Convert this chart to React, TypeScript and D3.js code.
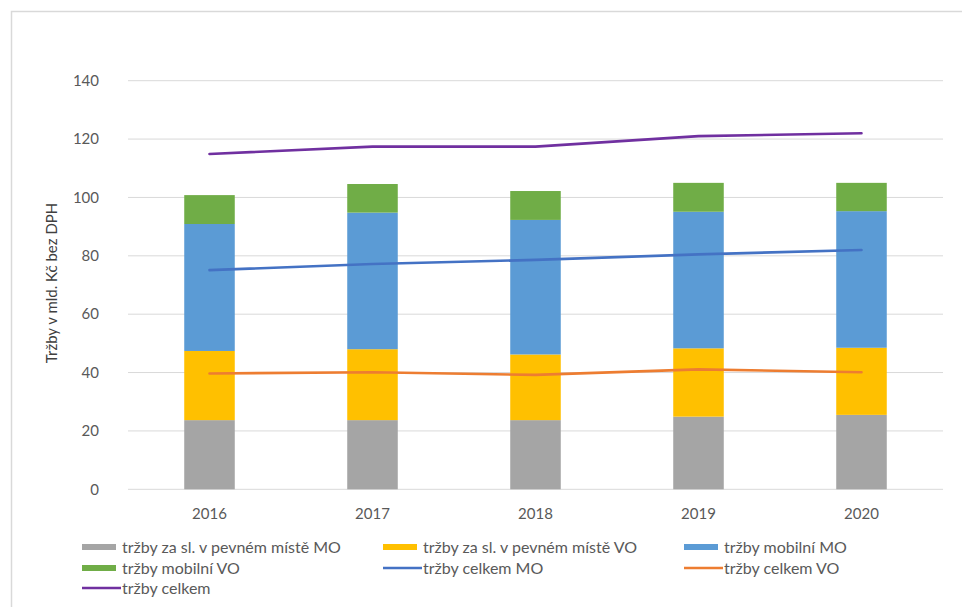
import React from 'react';
import * as d3 from 'd3';

const years = ['2016', '2017', '2018', '2019', '2020'];
const fixedMO = [23.7, 23.7, 23.7, 24.9, 25.5];
const fixedVO = [23.7, 24.3, 22.5, 23.4, 23.0];
const mobileMO = [43.5, 46.8, 46.1, 46.8, 46.8];
const mobileVO = [9.9, 9.8, 9.9, 9.9, 9.7];
const totalMO = [75.1, 77.2, 78.6, 80.5, 82.0];
const totalVO = [39.7, 40.1, 39.2, 41.1, 40.1];
const totalAll = [114.9, 117.4, 117.4, 121.0, 122.0];
const yTicks = [0, 20, 40, 60, 80, 100, 120, 140];

const barSeries = [
  { name: 'tržby za sl. v pevném místě MO', values: fixedMO, color: '#A5A5A5' },
  { name: 'tržby za sl. v pevném místě VO', values: fixedVO, color: '#FFC000' },
  { name: 'tržby mobilní MO', values: mobileMO, color: '#5B9BD5' },
  { name: 'tržby mobilní VO', values: mobileVO, color: '#70AD47' },
];
const lineSeries = [
  { name: 'tržby celkem MO', values: totalMO, color: '#4472C4' },
  { name: 'tržby celkem VO', values: totalVO, color: '#ED7D31' },
  { name: 'tržby celkem', values: totalAll, color: '#7030A0' },
];

const FONT = 'Lato, "Open Sans", sans-serif';
const TEXT = '#595959';

export default function App() {
  const x = d3.scaleBand<string>().domain(years).range([128, 943]).paddingInner(0.69).paddingOuter(0.345);
  const y = d3.scaleLinear().domain([0, 140]).range([489.3, 80.7]);

  const stackData = years.map((yr, i) => {
    const o: any = { year: yr };
    barSeries.forEach((s, k) => (o['s' + k] = s.values[i]));
    return o;
  });
  const stack = d3.stack<any>().keys(barSeries.map((_, k) => 's' + k))(stackData);

  const line = d3
    .line<number>()
    .x((_, i) => (x(years[i]) as number) + x.bandwidth() / 2)
    .y((d) => y(d));

  const legendItems = [
    ...barSeries.map((s) => ({ name: s.name, color: s.color, type: 'bar' })),
    ...lineSeries.map((s) => ({ name: s.name, color: s.color, type: 'line' })),
  ];
  const colX = [82, 383, 684];
  const rowY = [547, 568, 588];

  return (
    <svg width={962} height={607} style={{ position: 'absolute', left: 0, top: 0, background: '#fff' }} fontFamily={FONT}>
      <rect x={11.5} y={11.5} width={980} height={640} fill="#fff" stroke="#D9D9D9" strokeWidth={1.5} />
      {yTicks.map((t) => (
        <g key={t}>
          <line x1={128} x2={943} y1={y(t)} y2={y(t)} stroke="#D9D9D9" strokeWidth={1} />
          <text x={99} y={y(t)} dy="0.35em" textAnchor="end" fontSize={15} fill={TEXT}>
            {t}
          </text>
        </g>
      ))}
      <text
        transform={`translate(57,${283}) rotate(-90)`}
        textAnchor="middle"
        fontSize={15}
        fill="#404040"
      >
        Tržby v mld. Kč bez DPH
      </text>
      {stack.map((layer, k) => (
        <g key={k} fill={barSeries[k].color}>
          {layer.map((d, i) => (
            <rect
              key={i}
              x={x(years[i])}
              width={x.bandwidth()}
              y={y(d[1])}
              height={y(d[0]) - y(d[1])}
            />
          ))}
        </g>
      ))}
      {lineSeries.map((s) => (
        <path key={s.name} d={line(s.values) || ''} fill="none" stroke={s.color} strokeWidth={2.6} strokeLinecap="round" />
      ))}
      {years.map((yr) => (
        <text key={yr} x={(x(yr) as number) + x.bandwidth() / 2} y={519} textAnchor="middle" fontSize={15} fill={TEXT}>
          {yr}
        </text>
      ))}
      {legendItems.map((it, i) => {
        const cx = colX[i % 3];
        const cy = rowY[Math.floor(i / 3)];
        return (
          <g key={it.name}>
            {it.type === 'bar' ? (
              <rect x={cx} y={cy - 3} width={34} height={6} fill={it.color} />
            ) : (
              <line x1={cx} x2={cx + 39} y1={cy} y2={cy} stroke={it.color} strokeWidth={2.6} />
            )}
            <text x={cx + 40} y={cy} dy="0.35em" fontSize={16} fill={TEXT}>
              {it.name}
            </text>
          </g>
        );
      })}
    </svg>
  );
}
